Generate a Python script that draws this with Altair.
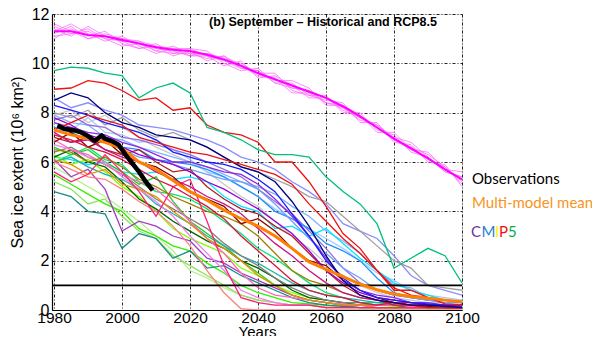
import altair as alt
import pandas as pd

years = list(range(1980, 2101, 5))

model_names = [
    "lg2", "lg1", "lgray", "lb2", "lb1", "lviolet", "gray", "mpurple", "cyan", "dodger",
    "lb3", "spring", "lime", "green2", "chartreuse", "dgreen", "lseagreen", "teal", "purple", "gray2",
    "violet", "hotpink", "salmon", "orangethin", "olive", "deeppink", "maroon2", "brownred", "mvred", "crimson",
    "dviolet", "bviolet", "blue", "navy", "red2", "red", "greenteal",
]
model_colors = [
    "#b8f090", "#90e060", "#c8c8c8", "#a8c8ff", "#80b0ff", "#8c8cff", "#a0a0a0", "#9370db", "#00e5ff", "#1e90ff",
    "#6aa0ff", "#00e676", "#33ee00", "#22cc22", "#7fff00", "#006400", "#20b2aa", "#1a8a8a", "#a040c0", "#808080",
    "#ee82ee", "#ff69b4", "#ff8080", "#e89000", "#a08000", "#ff1e78", "#8b0000", "#b22222", "#c71585", "#dc143c",
    "#9400d3", "#8a2be2", "#1a1aff", "#000080", "#ee1111", "#ee1111", "#00c07a",
]
model_values = [
    [5.8, 5.4, 5.0, 4.6, 4.1, 3.6, 3.0, 2.4, 1.6, 1.3, 0.9, 0.6, 0.4, 0.3, 0.2, 0.2, 0.15, 0.1, 0.1, 0.1, 0.1, 0.1, 0.05, 0.05, 0.05],
    [5.2, 4.9, 4.3, 4.5, 3.8, 3.2, 2.9, 2.2, 1.8, 1.4, 1.0, 0.6, 0.4, 0.3, 0.2, 0.2, 0.1, 0.1, 0.1, 0.1, 0.1, 0.1, 0.1, 0.1, 0.1],
    [7.9, 8.1, 7.6, 7.9, 7.4, 7.0, 6.6, 6.3, 6.0, 5.6, 5.1, 4.6, 4.2, 3.6, 3.0, 2.5, 1.9, 1.4, 1.0, 0.7, 0.5, 0.4, 0.3, 0.3, 0.2],
    [7.6, 7.3, 7.8, 7.2, 7.1, 6.8, 6.9, 6.5, 6.1, 5.6, 5.4, 5.0, 4.6, 4.1, 3.7, 3.3, 2.9, 2.5, 2.0, 1.5, 1.2, 0.8, 0.6, 0.5, 0.4],
    [7.9, 7.6, 7.5, 7.0, 6.9, 6.6, 6.4, 6.2, 6.0, 5.8, 5.5, 5.2, 5.0, 4.7, 4.2, 3.8, 3.2, 2.8, 2.3, 1.6, 1.0, 0.9, 0.5, 0.4, 0.3],
    [8.6, 8.2, 8.4, 8.1, 7.9, 7.5, 7.4, 7.3, 7.1, 6.9, 6.6, 6.2, 6.0, 5.7, 5.2, 4.8, 4.3, 3.5, 3.2, 2.9, 2.2, 1.4, 1.0, 0.8, 0.6],
    [8.0, 7.8, 8.1, 7.5, 7.8, 7.3, 7.0, 7.2, 6.9, 6.6, 6.2, 5.8, 5.6, 5.3, 5.0, 4.6, 4.4, 3.8, 3.2, 2.6, 2.0, 1.7, 1.0, 0.9, 0.8],
    [7.7, 7.9, 7.5, 7.4, 7.0, 6.9, 6.7, 6.5, 6.3, 6.0, 5.7, 5.4, 4.9, 4.4, 3.9, 3.2, 2.5, 1.7, 1.1, 0.8, 0.6, 0.5, 0.4, 0.3, 0.3],
    [6.2, 6.1, 5.9, 6.0, 5.6, 5.5, 5.6, 5.3, 5.4, 5.2, 4.6, 4.2, 4.0, 3.3, 3.4, 3.0, 3.3, 2.7, 2.1, 1.6, 1.1, 0.8, 0.6, 0.4, 0.3],
    [7.4, 7.2, 6.9, 6.8, 6.6, 6.5, 6.1, 6.0, 5.9, 5.7, 5.4, 5.0, 4.6, 4.0, 3.7, 3.3, 2.7, 2.4, 2.0, 1.3, 0.7, 0.5, 0.4, 0.4, 0.3],
    [7.2, 7.4, 7.0, 6.8, 6.5, 6.2, 6.1, 5.9, 5.7, 5.5, 5.3, 5.2, 4.9, 4.3, 3.6, 2.9, 2.3, 1.7, 1.3, 0.8, 0.6, 0.5, 0.4, 0.3, 0.3],
    [6.0, 6.3, 6.6, 6.1, 5.9, 5.2, 4.8, 4.7, 4.5, 4.1, 3.6, 3.1, 2.5, 2.1, 1.6, 1.1, 0.7, 0.5, 0.3, 0.3, 0.2, 0.2, 0.2, 0.1, 0.1],
    [5.5, 5.1, 4.7, 4.3, 4.0, 3.3, 3.0, 2.6, 2.4, 1.9, 1.5, 1.0, 0.7, 0.5, 0.3, 0.25, 0.2, 0.15, 0.1, 0.1, 0.1, 0.1, 0.1, 0.1, 0.1],
    [6.6, 6.3, 6.5, 6.0, 5.6, 5.1, 5.4, 4.4, 3.6, 3.1, 2.6, 2.0, 1.5, 1.0, 0.6, 0.4, 0.3, 0.2, 0.1, 0.1, 0.1, 0.1, 0.1, 0.1, 0.1],
    [6.3, 5.9, 6.1, 5.6, 5.0, 4.6, 4.0, 3.3, 2.9, 2.6, 2.3, 1.7, 1.4, 1.0, 0.7, 0.5, 0.4, 0.3, 0.2, 0.2, 0.15, 0.1, 0.1, 0.1, 0.1],
    [6.2, 6.5, 6.0, 5.8, 5.2, 4.5, 4.1, 3.6, 3.2, 2.8, 2.5, 2.0, 1.7, 1.3, 0.8, 0.5, 0.4, 0.3, 0.2, 0.2, 0.2, 0.1, 0.1, 0.1, 0.1],
    [6.0, 6.2, 5.8, 5.5, 5.3, 4.9, 4.3, 3.9, 3.5, 3.0, 2.6, 2.2, 1.9, 1.5, 1.1, 0.8, 0.6, 0.5, 0.4, 0.3, 0.3, 0.2, 0.2, 0.2, 0.2],
    [4.8, 4.6, 4.0, 3.9, 2.5, 3.1, 2.9, 2.1, 2.4, 1.7, 1.8, 1.4, 1.1, 0.8, 0.5, 0.3, 0.2, 0.15, 0.1, 0.1, 0.1, 0.1, 0.1, 0.1, 0.1],
    [6.1, 5.4, 5.7, 4.9, 3.2, 3.6, 3.4, 3.0, 2.8, 2.1, 1.9, 1.5, 1.2, 0.9, 0.6, 0.4, 0.3, 0.2, 0.2, 0.1, 0.1, 0.1, 0.1, 0.1, 0.1],
    [6.4, 6.6, 6.2, 5.9, 5.5, 5.0, 4.5, 4.1, 3.7, 3.3, 2.7, 2.2, 1.8, 1.3, 0.9, 0.6, 0.4, 0.3, 0.3, 0.2, 0.2, 0.2, 0.1, 0.1, 0.1],
    [6.7, 6.5, 6.2, 6.0, 5.4, 4.9, 4.4, 3.8, 3.0, 2.3, 1.6, 0.8, 0.5, 0.3, 0.2, 0.2, 0.1, 0.1, 0.1, 0.1, 0.1, 0.1, 0.1, 0.1, 0.1],
    [6.9, 6.5, 6.3, 5.9, 5.5, 5.2, 4.9, 4.3, 3.6, 2.9, 2.3, 1.5, 0.9, 0.6, 0.5, 0.4, 0.3, 0.25, 0.2, 0.2, 0.2, 0.15, 0.1, 0.1, 0.1],
    [6.0, 5.7, 5.4, 5.3, 4.9, 4.4, 4.0, 3.4, 2.6, 1.6, 0.7, 0.05, 0.0, 0.0, 0.0, 0.0, 0.0, 0.0, 0.0, 0.0, 0.0, 0.0, 0.0, 0.0, 0.0],
    [6.1, 5.9, 5.5, 5.7, 5.1, 4.9, 4.6, 4.0, 3.5, 2.9, 2.5, 2.0, 1.4, 1.0, 0.6, 0.4, 0.3, 0.2, 0.2, 0.1, 0.1, 0.1, 0.1, 0.1, 0.1],
    [6.5, 6.4, 6.0, 6.2, 5.8, 5.3, 5.0, 4.6, 4.3, 4.0, 3.8, 3.5, 3.0, 2.3, 1.6, 1.2, 1.0, 0.7, 0.5, 0.4, 0.3, 0.3, 0.2, 0.2, 0.2],
    [5.6, 5.2, 5.5, 6.3, 5.6, 4.8, 3.8, 5.0, 5.3, 3.6, 1.8, 0.5, 0.3, 0.2, 0.2, 0.2, 0.1, 0.1, 0.1, 0.1, 0.1, 0.1, 0.1, 0.1, 0.1],
    [6.8, 7.2, 6.6, 6.9, 6.3, 6.0, 5.8, 5.4, 4.8, 4.5, 4.2, 3.5, 3.7, 3.2, 2.5, 2.0, 1.8, 1.2, 0.8, 0.5, 0.3, 0.2, 0.15, 0.1, 0.1],
    [7.0, 6.8, 7.0, 6.5, 6.3, 6.5, 6.0, 5.6, 5.7, 5.0, 4.5, 4.1, 3.9, 3.4, 3.0, 2.3, 1.6, 1.0, 0.6, 0.4, 0.2, 0.2, 0.1, 0.1, 0.1],
    [7.2, 6.8, 6.9, 6.5, 6.2, 6.0, 5.6, 5.3, 5.0, 4.6, 4.3, 3.9, 3.3, 2.7, 2.2, 1.6, 1.1, 0.7, 0.5, 0.4, 0.3, 0.3, 0.2, 0.2, 0.2],
    [7.1, 6.9, 6.6, 6.4, 6.1, 5.7, 5.3, 5.0, 4.6, 4.2, 3.7, 3.0, 2.4, 1.8, 1.2, 0.8, 0.6, 0.5, 0.3, 0.2, 0.3, 0.2, 0.2, 0.15, 0.1],
    [7.8, 7.5, 7.1, 6.9, 6.6, 6.3, 6.1, 5.9, 5.6, 5.2, 4.9, 4.5, 4.1, 3.6, 3.1, 2.4, 1.6, 1.1, 0.7, 0.5, 0.4, 0.3, 0.2, 0.2, 0.1],
    [7.6, 7.4, 7.2, 7.1, 6.8, 6.6, 6.3, 6.0, 6.0, 5.8, 5.6, 5.5, 5.1, 4.5, 3.8, 3.0, 2.1, 1.2, 0.8, 0.6, 0.5, 0.3, 0.3, 0.2, 0.2],
    [8.3, 8.1, 7.9, 7.6, 7.4, 7.2, 6.9, 6.4, 6.2, 6.0, 5.9, 5.7, 5.3, 4.8, 3.9, 3.0, 2.0, 1.3, 0.8, 0.5, 0.4, 0.3, 0.25, 0.2, 0.15],
    [8.5, 8.8, 8.6, 8.0, 7.6, 7.4, 7.1, 7.0, 6.9, 6.6, 6.2, 5.8, 5.6, 5.2, 4.4, 3.4, 2.2, 1.2, 0.6, 0.4, 0.3, 0.2, 0.2, 0.15, 0.1],
    [7.3, 7.6, 7.9, 7.7, 7.5, 7.0, 6.8, 6.6, 6.4, 6.3, 6.1, 5.9, 5.7, 5.5, 5.1, 4.3, 3.6, 2.9, 2.3, 1.6, 0.8, 0.8, 0.5, 0.25, 0.2],
    [8.95, 9.0, 9.3, 9.2, 8.9, 8.5, 8.6, 8.1, 8.2, 7.5, 7.2, 7.1, 6.8, 6.0, 6.0, 5.2, 4.2, 3.1, 2.5, 1.6, 0.9, 0.6, 0.5, 0.4, 0.3],
    [9.7, 9.85, 9.8, 9.6, 9.5, 8.6, 9.0, 9.2, 8.8, 7.4, 7.2, 6.9, 6.5, 6.3, 6.3, 6.2, 5.4, 4.8, 4.3, 3.5, 1.7, 2.1, 2.5, 2.2, 1.1],
]

magenta_members = [
    [11.5, 11.2, 11.4, 11.0, 10.9, 10.9, 10.5, 10.7, 10.4, 10.2, 10.3, 9.9, 9.5, 9.4, 9.0, 8.9, 8.4, 8.2, 7.7, 7.5, 6.9, 6.6, 6.3, 5.8, 5.2],
    [11.0, 11.4, 11.1, 11.3, 10.8, 10.6, 10.8, 10.4, 10.6, 10.5, 10.0, 9.7, 9.8, 9.2, 9.2, 8.7, 8.7, 8.0, 8.0, 7.3, 7.1, 6.4, 6.2, 5.6, 5.4],
    [11.3, 11.6, 11.2, 10.9, 11.1, 10.7, 10.4, 10.6, 10.3, 10.4, 10.2, 10.0, 9.6, 9.6, 8.9, 8.7, 8.5, 8.4, 7.6, 7.6, 6.8, 6.7, 6.0, 5.9, 5.0],
    [11.6, 11.3, 11.0, 11.2, 11.0, 10.9, 10.7, 10.3, 10.5, 10.1, 10.3, 9.8, 9.7, 9.3, 9.3, 9.0, 8.3, 8.3, 7.9, 7.2, 7.2, 6.5, 6.4, 5.7, 5.6],
    [11.1, 11.2, 11.3, 11.0, 10.7, 10.8, 10.6, 10.5, 10.3, 10.3, 9.9, 10.1, 9.4, 9.5, 9.1, 8.6, 8.6, 8.1, 7.8, 7.4, 6.9, 6.6, 6.1, 5.8, 5.1],
    [11.4, 11.1, 11.5, 11.1, 10.9, 10.6, 10.7, 10.6, 10.6, 10.3, 10.1, 9.8, 9.7, 9.2, 9.0, 8.9, 8.6, 8.2, 7.8, 7.5, 7.0, 6.8, 6.2, 5.6, 5.4],
    [11.2, 11.5, 11.0, 11.1, 11.0, 10.8, 10.5, 10.4, 10.4, 10.4, 10.2, 9.9, 9.6, 9.4, 8.8, 8.8, 8.4, 8.3, 7.9, 7.4, 6.9, 6.5, 6.2, 5.7, 5.3],
]
magenta_mean = [11.3, 11.3, 11.15, 11.1, 10.95, 10.8, 10.65, 10.55, 10.5, 10.35, 10.15, 9.9, 9.6, 9.35,
                9.1, 8.85, 8.6, 8.25, 7.85, 7.4, 6.95, 6.55, 6.15, 5.7, 5.3]

mmm_values = [7.3, 7.1, 6.95, 6.8, 6.55, 6.0, 5.7, 5.25, 4.8, 4.45, 4.05, 3.7, 3.4, 3.0, 2.5, 1.95, 1.65,
              1.35, 1.05, 0.82, 0.65, 0.55, 0.48, 0.4, 0.33]

obs_years = [1981, 1983, 1986, 1988, 1990, 1992, 1994, 1995, 1997, 1999, 2001, 2003, 2005, 2007, 2009]
obs_values = [7.48, 7.35, 7.28, 7.2, 7.05, 6.85, 7.08, 6.95, 6.85, 6.7, 6.3, 5.95, 5.6, 5.2, 4.85]

threshold = [1.0]

title_text = "(b) September \u2013 Historical and RCP8.5"
x_ticks = [1980, 2000, 2020, 2040, 2060, 2080, 2100]
y_ticks = [0, 2, 4, 6, 8, 10, 12]

# ---- tables ----
models_df = pd.DataFrame(
    [{"model": n, "year": y, "extent": v}
     for n, vals in zip(model_names, model_values) for y, v in zip(years, vals)]
)
mag_df = pd.DataFrame(
    [{"member": i, "year": y, "extent": v}
     for i, vals in enumerate(magenta_members) for y, v in zip(years, vals)]
)
magm_df = pd.DataFrame({"year": years, "extent": magenta_mean})
mmm_df = pd.DataFrame({"year": years, "extent": mmm_values})
obs_df = pd.DataFrame({"year": obs_years, "extent": obs_values})
thr_df = pd.DataFrame({"extent": threshold})

FONT = "Liberation Sans"

xscale = alt.Scale(domain=[1979.4, 2100], nice=False, zero=False)
yscale = alt.Scale(domain=[0, 12], nice=False)

xaxis = alt.Axis(values=x_ticks, format="d", title="Years", grid=True, gridColor="black",
                 gridDash=[3, 2, 1, 2], gridOpacity=0.85, gridWidth=1, labelFlush=False, tickSize=0,
                 labelFontSize=15.5, labelColor="black", labelPadding=0, labelFont=FONT,
                 titleFontSize=15, titleFontWeight="normal", titleColor="black",
                 titleFont=FONT, titleY=26, titleBaseline="alphabetic",
                 domainColor="black", domainWidth=1.2)
yaxis = alt.Axis(values=y_ticks, title="Sea ice extent (10\u2076 km\u00b2)", grid=True, gridColor="black",
                 gridDash=[3, 2, 1, 2], gridOpacity=0.85, gridWidth=1, labelFlush=False, tickSize=0,
                 labelFontSize=16, labelColor="black", labelPadding=3, labelFont=FONT,
                 titleFontSize=16, titleFontWeight="normal", titleColor="black",
                 titleFont=FONT, titleX=-35, titleY=148, titleAngle=270, titleBaseline="middle",
                 titleAlign="center", domainColor="black", domainWidth=1.2)

base_x = alt.X("year:Q", scale=xscale, axis=xaxis)
base_y = alt.Y("extent:Q", scale=yscale, axis=yaxis)

models = alt.Chart(models_df).mark_line(strokeWidth=1.3, clip=True).encode(
    x=base_x, y=base_y,
    color=alt.Color("model:N", scale=alt.Scale(domain=model_names, range=model_colors), legend=None),
    order=alt.Order("year:Q"),
)

mag = alt.Chart(mag_df).mark_line(strokeWidth=1, color="#ff66ff", opacity=0.75).encode(
    x=alt.X("year:Q", scale=xscale), y=alt.Y("extent:Q", scale=yscale), detail="member:N"
)
magm = alt.Chart(magm_df).mark_line(strokeWidth=2, color="#ff00ff").encode(
    x=alt.X("year:Q", scale=xscale), y=alt.Y("extent:Q", scale=yscale)
)
thr = alt.Chart(thr_df).mark_rule(color="black", strokeWidth=1.8).encode(
    y=alt.Y("extent:Q", scale=yscale)
)
mmm = alt.Chart(mmm_df).mark_line(strokeWidth=3, color="#ff8000").encode(
    x=alt.X("year:Q", scale=xscale), y=alt.Y("extent:Q", scale=yscale)
)
obs = alt.Chart(obs_df).mark_line(strokeWidth=4.5, color="black", strokeJoin="round").encode(
    x=alt.X("year:Q", scale=xscale), y=alt.Y("extent:Q", scale=yscale)
)

title = alt.Chart(pd.DataFrame({"t": [title_text]})).mark_text(
    font=FONT, fontSize=12.5, fontWeight="bold", color="black", align="center", baseline="alphabetic"
).encode(text="t:N", x=alt.value(271), y=alt.value(12))

legend_font = "Lato"
obs_lbl = alt.Chart(pd.DataFrame({"t": ["Observations"]})).mark_text(
    font=legend_font, fontSize=15, color="black", align="left", baseline="alphabetic"
).encode(text="t:N", x=alt.value(420), y=alt.value(170))
mmm_lbl = alt.Chart(pd.DataFrame({"t": ["Multi-model mean"]})).mark_text(
    font=legend_font, fontSize=15, color="#f7941d", align="left", baseline="alphabetic"
).encode(text="t:N", x=alt.value(420), y=alt.value(194))

cmip_letters = ["C", "M", "I", "P", "5"]
cmip_colors = ["#7030a0", "#1f7fd4", "#ffee00", "#ee1111", "#00b050"]
cmip_x = [419, 429.5, 443, 447, 456]
cmip_layers = [
    alt.Chart(pd.DataFrame({"t": [ch]})).mark_text(
        font=legend_font, fontSize=15, color=c, align="left", baseline="alphabetic"
    ).encode(text="t:N", x=alt.value(px), y=alt.value(223))
    for ch, c, px in zip(cmip_letters, cmip_colors, cmip_x)
]

chart = alt.layer(models, mag, magm, thr, mmm, obs, title, obs_lbl, mmm_lbl, *cmip_layers).properties(
    width=410, height=296,
    autosize=alt.AutoSizeParams(type="none"),
    padding={"left": 44, "top": 6, "right": 130, "bottom": 26},
).configure_view(stroke="#777777", strokeWidth=1.5).configure(font=FONT, background="white")

chart.save("out.html", embed_options={"renderer": "svg", "actions": False})
